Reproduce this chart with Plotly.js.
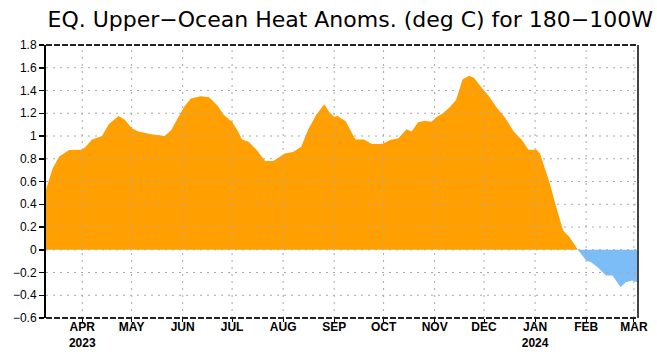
<!DOCTYPE html>
<html>
<head>
<meta charset="utf-8">
<script src="https://cdn.plot.ly/plotly-3.0.1.min.js"></script>
<style>html,body{margin:0;padding:0;background:#fff;}#chart{width:657px;height:352px;}</style>
</head>
<body>
<div id="chart"></div>
<script>
// Dates (approximate pentad/weekly samples) and heat content anomalies (deg C)
const dates = [
  '2023-03-10','2023-03-14','2023-03-18','2023-03-24','2023-04-01','2023-04-03','2023-04-07','2023-04-13',
  '2023-04-17','2023-04-23','2023-04-27','2023-05-01','2023-05-05','2023-05-13','2023-05-21','2023-05-25',
  '2023-05-29','2023-06-02','2023-06-06','2023-06-12','2023-06-17','2023-06-22','2023-06-26','2023-07-01',
  '2023-07-05','2023-07-07','2023-07-11','2023-07-16','2023-07-21','2023-07-26','2023-08-02','2023-08-07',
  '2023-08-12','2023-08-16','2023-08-21','2023-08-26','2023-08-29','2023-09-01','2023-09-03','2023-09-08',
  '2023-09-12','2023-09-14','2023-09-19','2023-09-24','2023-09-30','2023-10-05','2023-10-10','2023-10-15',
  '2023-10-18','2023-10-22','2023-10-26','2023-10-30','2023-11-02','2023-11-06','2023-11-10','2023-11-14',
  '2023-11-16','2023-11-18','2023-11-22','2023-11-25','2023-11-29','2023-12-04','2023-12-09','2023-12-14',
  '2023-12-19','2023-12-24','2023-12-28','2024-01-02','2024-01-04','2024-01-07','2024-01-10','2024-01-13',
  '2024-01-16','2024-01-18','2024-01-22','2024-01-25','2024-01-27','2024-02-01','2024-02-04','2024-02-08',
  '2024-02-13','2024-02-17','2024-02-22','2024-02-25','2024-02-29','2024-03-03'
];
const anomalies = [
  0.53, 0.715, 0.82, 0.876, 0.88, 0.905, 0.97, 1.00,
  1.10, 1.176, 1.14, 1.07, 1.04, 1.015, 1.00, 1.05,
  1.156, 1.26, 1.33, 1.35, 1.34, 1.27, 1.185, 1.126,
  1.03, 0.97, 0.95, 0.876, 0.78, 0.78, 0.847, 0.86,
  0.905, 1.05, 1.185, 1.28, 1.21, 1.17, 1.176, 1.13,
  1.02, 0.97, 0.97, 0.93, 0.93, 0.965, 0.98, 1.06,
  1.04, 1.12, 1.135, 1.126, 1.165, 1.20, 1.25, 1.317,
  1.406, 1.50, 1.53, 1.51, 1.435, 1.35, 1.244, 1.156,
  1.04, 0.965, 0.88, 0.88, 0.847, 0.715, 0.58, 0.42,
  0.26, 0.17, 0.11, 0.04, 0.0, -0.094, -0.11, -0.153,
  -0.227, -0.227, -0.33, -0.286, -0.27, -0.286
];
const monthTicks = ['2023-04-01','2023-05-01','2023-06-01','2023-07-01','2023-08-01','2023-09-01',
  '2023-10-01','2023-11-01','2023-12-01','2024-01-01','2024-02-01','2024-03-01'];
const monthLabels = ['APR<br>2023','MAY','JUN','JUL','AUG','SEP','OCT','NOV','DEC','JAN<br>2024','FEB','MAR'];
const yTicks = [-0.6,-0.4,-0.2,0,0.2,0.4,0.6,0.8,1,1.2,1.4,1.6,1.8];
const titleText = 'EQ. Upper\u2212Ocean Heat Anoms. (deg C) for 180\u2212100W';

const pos = anomalies.map(v => Math.max(v, 0));
const neg = anomalies.map(v => Math.min(v, 0));

const traces = [
  {x: dates, y: pos, type: 'scatter', mode: 'lines', fill: 'tozeroy',
   fillcolor: '#FFA000', line: {width: 0, color: '#FFA000'}, hoverinfo: 'skip'},
  {x: dates, y: neg, type: 'scatter', mode: 'lines', fill: 'tozeroy',
   fillcolor: '#7DBDF7', line: {width: 0, color: '#7DBDF7'}, hoverinfo: 'skip'}
];

const gridDash = '2px,5px';
const gridColor = '#a8a8a8';
const shapes = [];
monthTicks.forEach(d => shapes.push({type: 'line', xref: 'x', yref: 'paper', x0: d, x1: d, y0: 0, y1: 1,
  line: {color: gridColor, width: 1, dash: gridDash}, layer: 'above'}));
yTicks.slice(1, -1).forEach(v => shapes.push({type: 'line', xref: 'paper', yref: 'y', x0: 0, x1: 1, y0: v, y1: v,
  line: {color: gridColor, width: 1, dash: gridDash}, layer: 'above'}));
// frame
shapes.push({type: 'line', xref: 'paper', yref: 'paper', x0: 0, x1: 1, y0: 1, y1: 1, line: {color: '#222', width: 2, dash: '6px,2px'}, layer: 'above'});
shapes.push({type: 'line', xref: 'paper', yref: 'paper', x0: 0, x1: 1, y0: 0, y1: 0, line: {color: '#222', width: 2, dash: '6px,2px'}, layer: 'above'});
shapes.push({type: 'line', xref: 'paper', yref: 'paper', x0: 1, x1: 1, y0: 0, y1: 1, line: {color: '#444', width: 2}, layer: 'above'});

const layout = {
  width: 657, height: 352,
  margin: {l: 46, r: 19, t: 45, b: 34, pad: 0},
  paper_bgcolor: '#fff', plot_bgcolor: '#fff',
  showlegend: false,
  title: {text: titleText, x: 0.514, xanchor: 'center', xref: 'paper', y: 0.945, yanchor: 'middle', yref: 'container',
          font: {family: 'DejaVu Sans', size: 22, color: '#000'}},
  xaxis: {type: 'date', range: ['2023-03-10', '2024-03-03 12:00'], tickvals: monthTicks, ticktext: monthLabels,
          showgrid: false, zeroline: false, showline: false, ticks: 'outside', ticklen: 3, tickcolor: '#000',
          ticklabelstandoff: -5,
          tickfont: {family: 'Liberation Sans', size: 12, color: '#000', weight: 'bold'}, fixedrange: true},
  yaxis: {range: [-0.6, 1.8], tickvals: yTicks, showgrid: false, zeroline: false,
          showline: true, linecolor: '#000', linewidth: 2, ticks: 'outside', ticklen: 5, tickcolor: '#000', tickwidth: 1.5,
          tickfont: {family: 'Liberation Sans', size: 12, color: '#000'}, fixedrange: true},
  shapes: shapes
};

Plotly.newPlot('chart', traces, layout, {staticPlot: true, displayModeBar: false});
</script>
</body>
</html>
